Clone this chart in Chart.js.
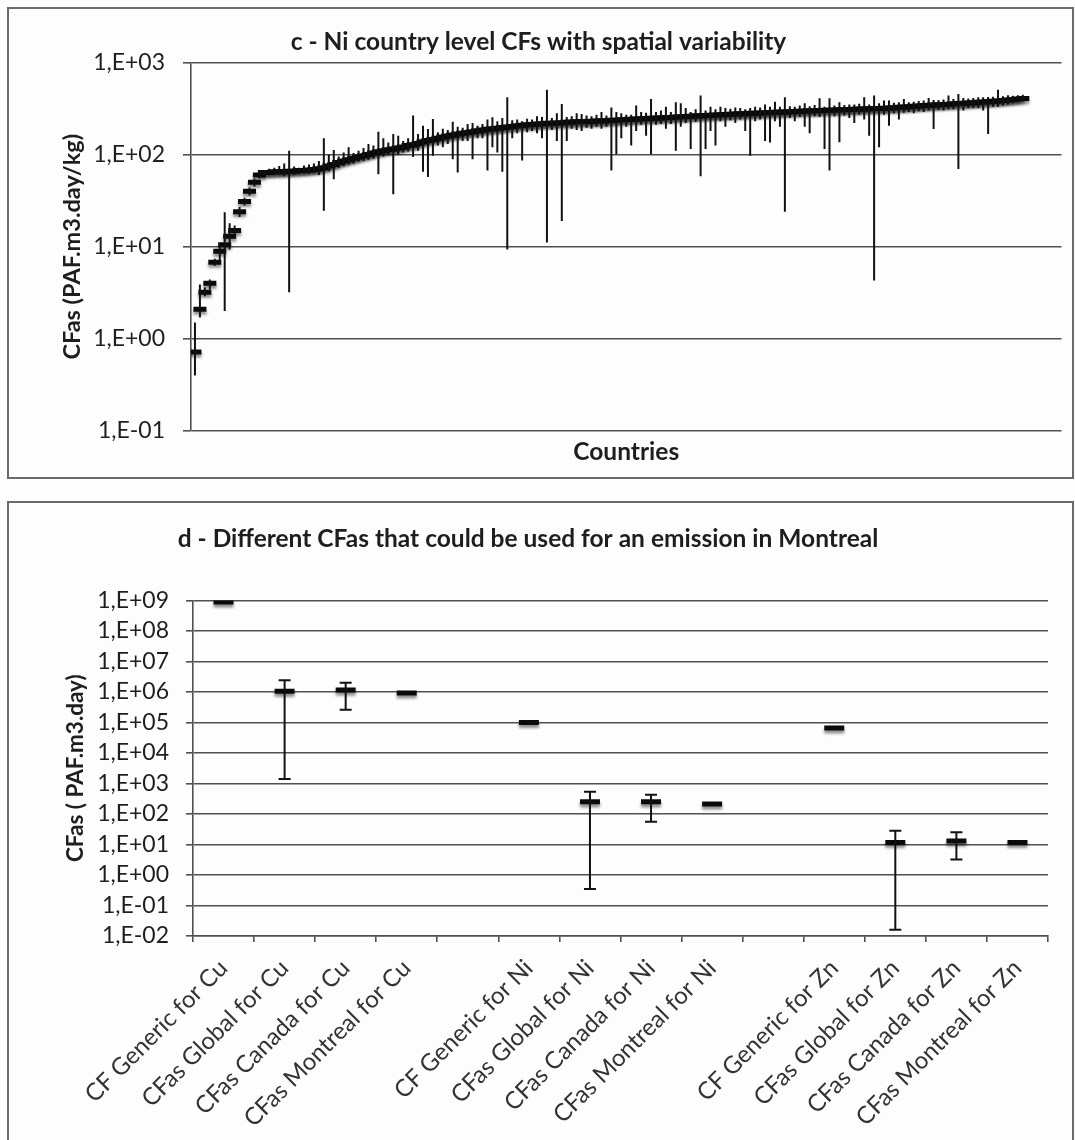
<!DOCTYPE html>
<html>
<head>
<meta charset="utf-8">
<script src="https://cdn.jsdelivr.net/npm/chart.js@4.4.1/dist/chart.umd.min.js"></script>
<style>
  html, body { margin: 0; padding: 0; background: #fdfdfd; overflow: hidden; }
  body { width: 1075px; height: 1140px; position: relative; }
  .frame { position: absolute; border: 2px solid #6a6a6a; box-sizing: border-box; }
  .box { position: absolute; }
</style>
</head>
<body>
<div class="frame" style="left:7px; top:7px; width:1067px; height:472px;"></div>
<div class="frame" style="left:7px; top:501px; width:1067px; height:700px;"></div>
<div class="box" style="left:8px; top:8px; width:1065px; height:470px;"><canvas id="chartC"></canvas></div>
<div class="box" style="left:8px; top:502px; width:1065px; height:638px;"><canvas id="chartD"></canvas></div>
<script>
// ---- panel c : Ni country level CFs (sorted), with min / max per country
const niCF = [
  0.72, 2.1, 3.2, 4.0, 6.8, 8.9, 10.5, 13, 15, 24, 31, 40, 50, 60, 64, 64, 65, 65, 65, 66,
  66, 67, 67, 68, 69, 70, 72, 75, 78, 82, 85, 88, 91, 94, 97, 100, 104, 107, 110, 113,
  115, 118, 121, 125, 128, 132, 138, 142, 146, 150, 155, 159, 163, 167, 170, 174, 177, 181, 185, 188,
  190, 193, 196, 199, 202, 205, 208, 210, 212, 214, 216, 218, 219, 220, 222, 224, 225, 227, 228, 229,
  230, 231, 232, 233, 235, 236, 238, 240, 241, 243, 245, 246, 248, 249, 250, 252, 253, 255, 257, 259,
  261, 263, 264, 266, 267, 269, 270, 272, 274, 275, 277, 278, 280, 281, 283, 284, 286, 287, 289, 290,
  292, 294, 295, 296, 298, 299, 300, 302, 303, 304, 306, 307, 309, 310, 312, 313, 315, 316, 317, 318,
  320, 323, 326, 329, 331, 334, 337, 340, 342, 345, 347, 350, 352, 355, 357, 360, 363, 366, 369, 372,
  375, 378, 382, 386, 390, 395, 400, 405
];
const niMin = [
  0.40, 1.7, 2.9, 3.4, 6.2, 7.0, 2.0, 9.3, 13, 21, 28, 36, 45, 55, 60, 62, 60, 62, 58, 3.2,
  60, 63, 62, 62, 64, 60, 24.5, 66, 54, 72, 75, 78, 80, 84, 85, 88, 90, 61, 95, 100,
  37, 100, 105, 108, 94, 110, 65, 57, 97, 125, 120, 130, 89, 64, 140, 140, 89, 150, 150, 67,
  120, 105, 65, 9.3, 150, 170, 86, 175, 180, 170, 150, 11.1, 185, 140, 19, 140, 190, 185, 180, 195,
  190, 200, 190, 200, 67, 101, 150, 200, 125, 180, 210, 160, 101, 210, 215, 190, 215, 110, 200, 220,
  115, 225, 58, 115, 180, 125, 230, 200, 235, 220, 240, 180, 97, 230, 240, 140, 135, 230, 200, 24,
  250, 230, 255, 200, 170, 260, 255, 115, 67, 260, 136, 265, 250, 220, 270, 240, 160, 4.3, 120, 270,
  206, 280, 240, 285, 290, 280, 295, 290, 300, 189, 305, 300, 310, 310, 69.5, 300, 320, 320, 320, 300,
  167, 330, 330, 340, 350, 360, 370, 380
];
const niMax = [
  1.5, 3.9, 3.6, 4.4, 7.4, 11, 23.6, 18, 17, 27, 34, 44, 55, 66, 68, 70, 72, 75, 80, 110,
  74, 72, 76, 78, 80, 85, 150, 100, 112, 95, 105, 120, 104, 110, 118, 130, 125, 177, 150, 135,
  167, 160, 140, 150, 265, 167, 206, 189, 243, 175, 190, 185, 227, 200, 195, 214, 220, 205, 215, 240,
  254, 230, 250, 418, 235, 240, 230, 245, 240, 260, 255, 506, 250, 280, 354, 255, 260, 280, 275, 265,
  260, 270, 290, 265, 325, 290, 280, 270, 270, 340, 290, 285, 400, 290, 300, 330, 290, 370, 360, 320,
  290, 310, 437, 300, 330, 310, 330, 320, 315, 325, 320, 310, 320, 330, 325, 350, 330, 374, 330, 418,
  335, 330, 340, 360, 335, 345, 408, 330, 408, 340, 370, 345, 350, 350, 355, 418, 350, 436, 360, 385,
  385, 365, 370, 400, 370, 375, 380, 385, 410, 390, 390, 395, 436, 400, 454, 410, 405, 410, 418, 418,
  420, 425, 506, 430, 440, 435, 440, 445
];
const cTicks = [0.1, 1, 10, 100, 1000];

// ---- panel d : CFas usable for an emission in Montreal
const dCategories = [
  'CF Generic for Cu', 'CFas Global for Cu', 'CFas Canada for Cu', 'CFas Montreal for Cu', '',
  'CF Generic for Ni', 'CFas Global for Ni', 'CFas Canada for Ni', 'CFas Montreal for Ni', '',
  'CF Generic for Zn', 'CFas Global for Zn', 'CFas Canada for Zn', 'CFas Montreal for Zn'
];
const dValues = [8.9e8, 1.05e6, 1.15e6, 9.3e5, null, 1.0e5, 250, 250, 213, null, 6.6e4, 11.7, 13, 11.7];
const dMin = [null, 1.4e3, 2.6e5, null, null, null, 0.35, 56, null, null, null, 0.016, 3.2, null];
const dMax = [null, 2.4e6, 2.0e6, null, null, null, 530, 430, null, null, null, 28, 25, null];
const dTicks = [1e-2, 1e-1, 1, 1e1, 1e2, 1e3, 1e4, 1e5, 1e6, 1e7, 1e8, 1e9];

const FONT = 'Lato, "Open Sans", sans-serif';
const INK = '#1e1e1e';
const GRID = '#505050';

function sciLabel(v) {
  const e = Math.round(Math.log10(v));
  return '1,E' + (e < 0 ? '-' : '+') + String(Math.abs(e)).padStart(2, '0');
}

// vertical error lines: pairs of points separated by a null gap
function errorSegments(xs, lows, highs) {
  const out = [];
  xs.forEach((x, i) => {
    if (lows[i] == null || highs[i] == null) return;
    out.push({ x: x, y: lows[i] }, { x: x, y: highs[i] }, { x: x, y: null });
  });
  return out;
}

// excel-like drop shadow under markers
const shadowPlugin = {
  id: 'markerShadow',
  beforeDatasetDraw(chart, args) {
    const ds = chart.data.datasets[args.index];
    if (!ds.shadow) return;
    const ctx = chart.ctx;
    ctx.save();
    ctx.shadowColor = 'rgba(0,0,0,0.45)';
    ctx.shadowOffsetY = 3;
    ctx.shadowBlur = 3;
  },
  afterDatasetDraw(chart, args) {
    const ds = chart.data.datasets[args.index];
    if (ds.shadow) chart.ctx.restore();
  }
};

Chart.defaults.font.family = FONT;
Chart.defaults.color = INK;
Chart.defaults.animation = false;
Chart.defaults.responsive = true;
Chart.defaults.maintainAspectRatio = false;

// ---------------- chart c
const cIdx = niCF.map((v, i) => i);
new Chart(document.getElementById('chartC'), {
  type: 'scatter',
  data: {
    datasets: [
      {
        label: 'range',
        data: errorSegments(cIdx, niMin, niMax),
        showLine: true,
        spanGaps: false,
        borderColor: '#111',
        borderWidth: 2,
        pointRadius: 0
      },
      {
        label: 'CF',
        data: niCF.map((v, i) => ({ x: i, y: v })),
        shadow: true,
        pointStyle: 'line',
        pointRadius: 6.5,
        pointBorderWidth: 5,
        pointBorderColor: '#0a0a0a',
        pointBackgroundColor: '#0a0a0a'
      }
    ]
  },
  options: {
    layout: { padding: { left: 0, right: 4, top: 0, bottom: 0 } },
    plugins: {
      legend: { display: false },
      tooltip: { enabled: false },
      title: {
        display: true,
        text: 'c - Ni country level CFs with spatial variability',
        font: { size: 24.5, weight: 'bold' },
        color: INK,
        padding: { top: 19, bottom: 6 }
      }
    },
    scales: {
      x: {
        type: 'linear',
        min: -0.8,
        max: 174.8,
        afterFit(scale) { scale.height = 47; },
        ticks: { display: false },
        grid: { drawOnChartArea: false, drawTicks: false },
        border: { display: false },
        title: {
          display: true,
          text: 'Countries',
          font: { size: 24.5, weight: 'bold' },
          color: INK,
          padding: { top: 0, bottom: 11 }
        }
      },
      y: {
        type: 'logarithmic',
        min: 0.1,
        max: 1000,
        afterFit(scale) { scale.width = 183; },
        afterBuildTicks(scale) { scale.ticks = cTicks.map(v => ({ value: v })); },
        ticks: {
          autoSkip: false,
          callback: v => sciLabel(v),
          font: { size: 23 },
          color: INK,
          padding: 18
        },
        grid: { color: GRID, lineWidth: 1.6, tickLength: 8 },
        border: { display: true, color: GRID, width: 1.6 },
        title: {
          display: true,
          text: 'CFas (PAF.m3.day/kg)',
          font: { size: 23.5, weight: 'bold' },
          color: INK,
          padding: { top: 50, bottom: 0 }
        }
      }
    }
  },
  plugins: [shadowPlugin]
});

// ---------------- chart d
const capPoints = [];
dCategories.forEach((c, i) => {
  if (dMin[i] != null) capPoints.push({ x: c, y: dMin[i] });
  if (dMax[i] != null) capPoints.push({ x: c, y: dMax[i] });
});

new Chart(document.getElementById('chartD'), {
  type: 'line',
  data: {
    labels: dCategories,
    datasets: [
      {
        label: 'range',
        data: errorSegments(dCategories, dMin, dMax),
        showLine: true,
        spanGaps: false,
        borderColor: '#111',
        borderWidth: 2,
        pointRadius: 0
      },
      {
        label: 'caps',
        data: capPoints,
        showLine: false,
        pointStyle: 'line',
        pointRadius: 6,
        pointBorderWidth: 2,
        pointBorderColor: '#111'
      },
      {
        label: 'CFas',
        data: dValues,
        shadow: true,
        showLine: false,
        pointStyle: 'line',
        pointRadius: 10,
        pointBorderWidth: 5,
        pointBorderColor: '#0a0a0a'
      }
    ]
  },
  options: {
    layout: { padding: { left: 0, right: 25, top: 0, bottom: 0 } },
    plugins: {
      legend: { display: false },
      tooltip: { enabled: false },
      title: {
        display: true,
        text: 'd - Different CFas that could be used for an emission in Montreal',
        font: { size: 24.5, weight: 'bold' },
        color: INK,
        padding: { top: 22, bottom: 47 }
      }
    },
    scales: {
      x: {
        type: 'category',
        offset: true,
        afterFit(scale) { scale.height = 204; },
        ticks: {
          autoSkip: false,
          minRotation: 45,
          maxRotation: 45,
          font: { size: 24 },
          color: '#333',
          padding: 12
        },
        grid: { offset: true, drawOnChartArea: false, color: GRID, lineWidth: 1.6, tickLength: 6 },
        border: { display: true, color: GRID, width: 1.6 }
      },
      y: {
        type: 'logarithmic',
        min: 1e-2,
        max: 1e9,
        afterFit(scale) { scale.width = 185; },
        afterBuildTicks(scale) { scale.ticks = dTicks.map(v => ({ value: v })); },
        ticks: {
          autoSkip: false,
          callback: v => sciLabel(v),
          font: { size: 23 },
          color: INK,
          padding: 17
        },
        grid: { color: GRID, lineWidth: 1.6, tickLength: 7 },
        border: { display: true, color: GRID, width: 1.6 },
        title: {
          display: true,
          text: 'CFas ( PAF.m3.day)',
          font: { size: 22.5, weight: 'bold' },
          color: INK,
          padding: { top: 54, bottom: 0 }
        }
      }
    }
  },
  plugins: [shadowPlugin]
});
</script>
</body>
</html>
